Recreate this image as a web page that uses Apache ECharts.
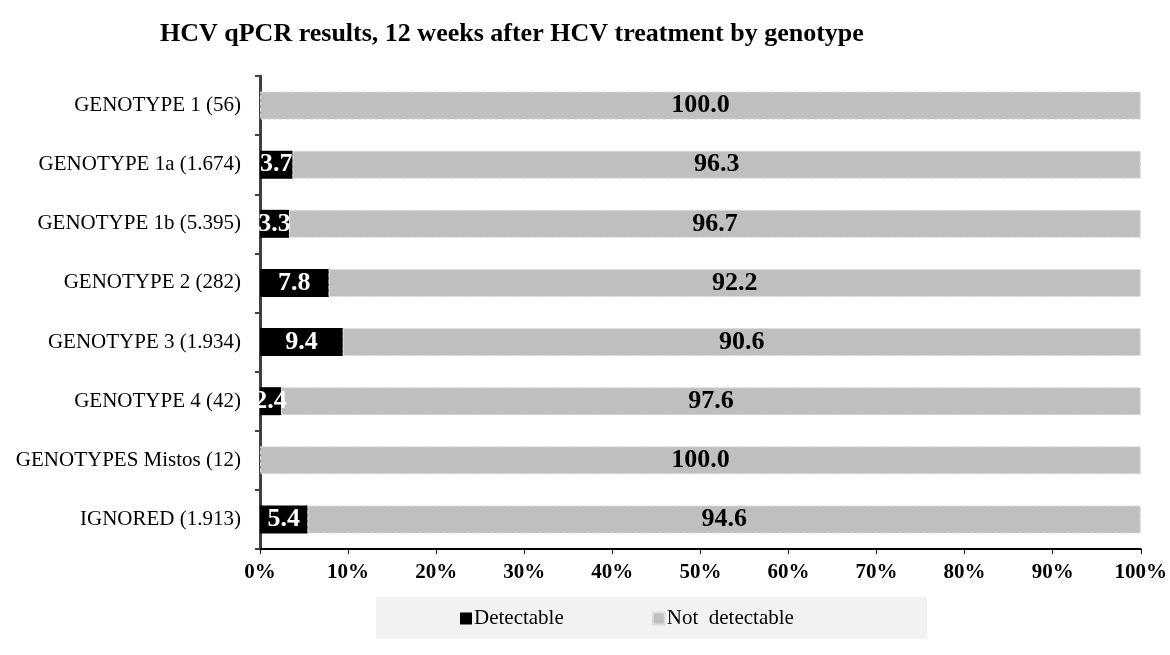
<!DOCTYPE html>
<html>
<head>
<meta charset="utf-8">
<script src="https://cdn.jsdelivr.net/npm/echarts@6/dist/echarts.min.js"></script>
<style>html,body{margin:0;padding:0;background:#fff}#c{width:1170px;height:655px}</style>
</head>
<body>
<div id="c"></div>
<script>
const categories = ["GENOTYPE 1 (56)","GENOTYPE 1a (1.674)","GENOTYPE 1b (5.395)","GENOTYPE 2 (282)","GENOTYPE 3 (1.934)","GENOTYPE 4 (42)","GENOTYPES Mistos (12)","IGNORED (1.913)"];
const detectable = [0, 3.7, 3.3, 7.8, 9.4, 2.4, 0, 5.4];
const notDetectable = [100.0, 96.3, 96.7, 92.2, 90.6, 97.6, 100.0, 94.6];
const seriesNames = ["Detectable", "Not  detectable"];
const titleText = "HCV qPCR results, 12 weeks after HCV treatment by genotype";

const FONT = '"Liberation Serif", "Times New Roman", serif';
const chart = echarts.init(document.getElementById('c'), null, {renderer: 'canvas'});
const fmt = p => (p.value > 0 ? p.value.toFixed(1) : '');
chart.setOption({
  animation: false,
  backgroundColor: '#ffffff',
  title: {
    text: titleText, left: 155, top: 16,
    textStyle: {fontFamily: FONT, fontWeight: 'bold', fontSize: 26, color: '#000'}
  },
  graphic: [{type: 'rect', left: 376, top: 597, shape: {width: 551, height: 42}, style: {fill: '#f2f2f2'}, z: -1}],
  legend: {
    left: 455, top: 603, itemWidth: 12, itemHeight: 12, itemGap: 88,
    icon: 'rect',
    textStyle: {fontFamily: FONT, fontSize: 21, color: '#000', padding: [0,0,0,-3]},
    data: seriesNames
  },
  grid: {left: 260, right: 27, top: 76, bottom: 106, containLabel: false},
  xAxis: {
    type: 'value', min: 0, max: 100, interval: 10,
    axisLine: {show: true, lineStyle: {color: '#000', width: 2}},
    axisTick: {show: true, length: 5, lineStyle: {color: '#000', width: 1}},
    splitLine: {show: false},
    axisLabel: {formatter: '{value}%', fontFamily: FONT, fontWeight: 'bold', fontSize: 21, color: '#000', margin: 13}
  },
  yAxis: {
    type: 'category', data: categories, inverse: true,
    axisLine: {show: true, lineStyle: {color: '#404040', width: 3}},
    axisTick: {show: true, length: 5, lineStyle: {color: '#404040', width: 2}},
    axisLabel: {fontFamily: FONT, fontSize: 21, color: '#000', margin: 19}
  },
  series: [
    {
      name: seriesNames[0], type: 'bar', stack: 'a', data: detectable, barWidth: 28,
      itemStyle: {color: '#000000'},
      label: {show: true, position: 'inside', formatter: fmt, fontFamily: FONT, fontWeight: 'bold', fontSize: 26, color: '#fff'}
    },
    {
      name: seriesNames[1], type: 'bar', stack: 'a', data: notDetectable, barWidth: 28,
      itemStyle: {color: '#bfbfbf', borderColor: '#dcdcdc', borderWidth: 1, borderType: 'dashed'},
      label: {show: true, position: 'inside', formatter: fmt, fontFamily: FONT, fontWeight: 'bold', fontSize: 26, color: '#000'}
    }
  ]
});
</script>
</body>
</html>
